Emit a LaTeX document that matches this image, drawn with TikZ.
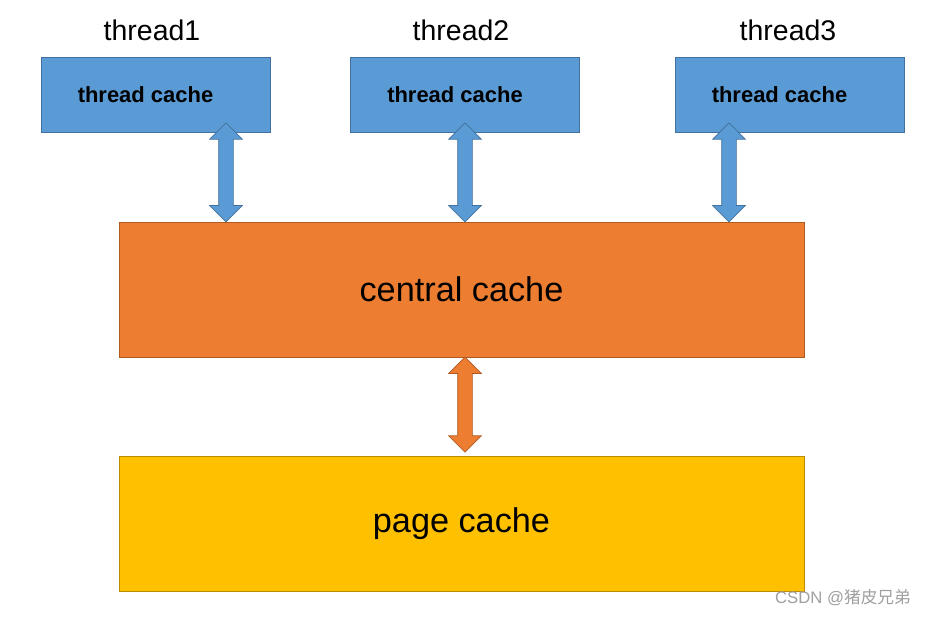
\documentclass[tikz,border=0pt]{standalone}
\usepackage{fontspec}
\setmainfont{Liberation Sans}
\newfontfamily\cjk{Noto Sans CJK SC}
\usetikzlibrary{shapes.arrows}
\definecolor{tcblue}{HTML}{5B9BD5}
\definecolor{tcline}{HTML}{41719C}
\definecolor{ccorange}{HTML}{ED7D31}
\definecolor{ccline}{HTML}{AE5A21}
\definecolor{pcyellow}{HTML}{FFC000}
\definecolor{pcline}{HTML}{BC8C00}
\tikzset{
  tcbox/.style={draw=tcline,fill=tcblue,minimum width=4.58cm,minimum height=1.5cm,font=\bfseries\fontsize{12.5}{14}\selectfont},
  bigbox/.style={minimum width=13.7cm,minimum height=2.7cm,font=\fontsize{19.5}{22}\selectfont},
  dblarrow/.style={double arrow,shape border rotate=90,inner sep=0.14cm,minimum width=0.64cm,double arrow head extend=0.18cm,double arrow tip angle=90},
}
\begin{document}
\begin{tikzpicture}[x=0.02cm,y=-0.02cm]
\useasboundingbox (0,0) rectangle (926,617);

% thread caches
\node[tcbox] (tc1) at (155.5,94.5) {\hspace*{-0.4cm}thread cache};
\node[tcbox] (tc2) at (465,94.5) {\hspace*{-0.4cm}thread cache};
\node[tcbox] (tc3) at (789.5,94.5) {\hspace*{-0.4cm}thread cache};
\node[font=\fontsize{16.2}{19}\selectfont] (t1) at (152,30) {thread1};
\node[font=\fontsize{16.2}{19}\selectfont] (t2) at (461,30) {thread2};
\node[font=\fontsize{16.2}{19}\selectfont] (t3) at (788,30) {thread3};

\node[bigbox,draw=ccline,fill=ccorange] (cc) at (461.5,289.5) {central cache};
\node[bigbox,draw=pcline,fill=pcyellow] (pc) at (461.5,523.5) {page cache};

% double arrows
\coordinate (a1) at (226,123);
\coordinate (a2) at (465,123);
\coordinate (a3) at (729,123);
\coordinate (a4) at (465,452);
\path (a1) -- (a1 |- cc.north) node[midway,dblarrow,draw=tcline,fill=tcblue,minimum height=1.98cm] (ar1) {};
\path (a2) -- (a2 |- cc.north) node[midway,dblarrow,draw=tcline,fill=tcblue,minimum height=1.98cm] (ar2) {};
\path (a3) -- (a3 |- cc.north) node[midway,dblarrow,draw=tcline,fill=tcblue,minimum height=1.98cm] (ar3) {};
\path (a4 |- cc.south) -- (a4) node[midway,dblarrow,draw=ccline,fill=ccorange,minimum height=1.9cm] (ar4) {};

\node[text=gray!75,font=\fontsize{9.5}{11}\selectfont] (wm) at (843,598) {CSDN @{\cjk 猪皮兄弟}};
\end{tikzpicture}
\end{document}
